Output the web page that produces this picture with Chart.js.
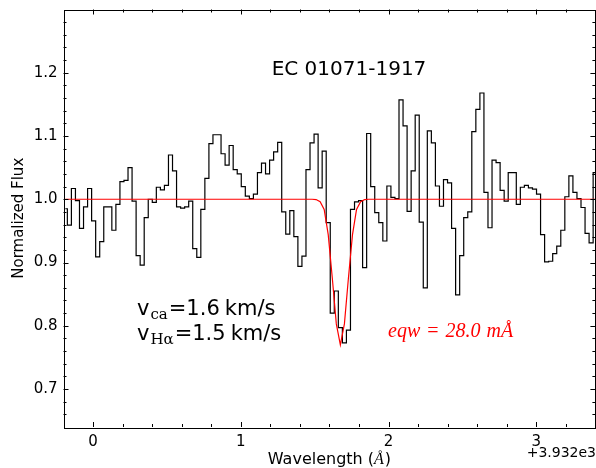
<!DOCTYPE html>
<html lang="en">
<head>
  <meta charset="UTF-8">
  <title>EC 01071-1917</title>
  <script src="https://cdn.jsdelivr.net/npm/chart.js"></script>
  <style>
    html, body { margin: 0; padding: 0; background: #fff; }
    .wrap { position: relative; width: 596px; height: 468px; }
  </style>
</head>
<body>
  <div class="wrap"><canvas id="spec"></canvas></div>

  <script>
    // wavelength grid (offset from 3932 A), one entry per pixel bin of the spectrum
    const waveStart = -0.1876;
    const waveStep = 0.027374;

    // normalized flux
    const flux = [
      0.985, 0.959, 1.017, 0.998, 0.954, 0.988, 1.017, 0.966, 0.909, 0.933,
      0.988, 0.988, 0.951, 0.992, 1.028, 1.030, 1.050, 0.997, 0.911, 0.896,
      0.971, 1.000, 0.995, 1.019, 1.015, 1.022, 1.070, 1.045, 0.988, 0.986,
      0.988, 0.997, 0.922, 0.908, 0.984, 1.033, 1.088, 1.102, 1.102, 1.072,
      1.054, 1.085, 1.047, 1.040, 1.020, 1.005, 1.001, 1.008, 1.042, 1.057,
      1.040, 1.062, 1.075, 1.090, 0.980, 0.945, 0.982, 0.941, 0.894, 0.910,
      1.047, 1.089, 1.103, 1.018, 1.076, 0.963, 0.820, 0.855, 0.797, 0.773,
      0.793, 0.984, 0.996, 0.998, 0.892, 1.104, 1.020, 0.979, 0.963, 0.934,
      1.021, 1.003, 1.001, 1.157, 1.116, 0.981, 1.045, 1.133, 0.964, 0.860,
      1.108, 1.089, 1.021, 0.989, 1.031, 1.026, 0.954, 0.849, 0.911, 0.971,
      0.980, 1.107, 1.142, 1.168, 1.011, 0.955, 1.062, 1.058, 1.014, 0.997,
      1.042, 1.042, 0.992, 1.019, 1.022, 1.018, 1.016, 1.008, 0.944, 0.901,
      0.902, 0.914, 0.926, 0.951, 1.004, 1.037, 1.011, 1.001, 0.987, 0.946,
      0.931, 1.042
    ];

    // fitted absorption profile, sampled on the same grid (bin index -> flux)
    const modelIdx  = [0, 61, 62, 63, 64, 65, 66, 67, 68, 69, 70, 71, 72, 73, 74, 75, 131];
    const modelFlux = [1.0, 1.0, 0.9995, 0.996, 0.984, 0.944, 0.876, 0.803, 0.770,
                       0.803, 0.876, 0.944, 0.984, 0.996, 0.9995, 1.0, 1.0];

    const xTicks = [0, 1, 2, 3];
    const yTicks = [0.7, 0.8, 0.9, 1.0, 1.1, 1.2];

    const waveAt = i => waveStart + i * waveStep;
    const fluxPoints = flux.map((f, i) => ({ x: waveAt(i), y: f }));
    const modelPoints = modelIdx.map((i, j) => ({ x: waveAt(i), y: modelFlux[j] }));

    const SANS = '"DejaVu Sans", sans-serif';
    const SERIF = '"DejaVu Serif", serif';
    const ITAL = '"Liberation Serif", "DejaVu Serif", serif';

    function runs(ctx, x, y, parts) {
      let cx = x;
      parts.forEach(p => {
        ctx.font = p.font;
        ctx.fillText(p.t, cx, y + (p.dy || 0));
        cx += ctx.measureText(p.t).width + (p.gap || 0);
      });
      return cx - x;
    }
    function runsWidth(ctx, parts) {
      let w = 0;
      parts.forEach(p => { ctx.font = p.font; w += ctx.measureText(p.t).width + (p.gap || 0); });
      return w;
    }

    const frame = {
      id: 'frame',
      afterDraw(chart) {
        const { ctx, chartArea: a, scales: { x, y } } = chart;
        ctx.save();
        ctx.strokeStyle = '#000';
        ctx.lineWidth = 1;
        ctx.strokeRect(Math.round(a.left) + 0.5, Math.round(a.top) + 0.5,
                       Math.round(a.right - a.left) - 1, Math.round(a.bottom - a.top));

        // inward ticks on all four sides
        const tick = (px, len, vertical) => {
          ctx.beginPath();
          const p = Math.round(px) + 0.5;
          if (vertical) {
            ctx.moveTo(p, a.bottom); ctx.lineTo(p, a.bottom - len);
            ctx.moveTo(p, a.top); ctx.lineTo(p, a.top + len);
          } else {
            ctx.moveTo(a.left, p); ctx.lineTo(a.left + len, p);
            ctx.moveTo(a.right, p); ctx.lineTo(a.right - len, p);
          }
          ctx.stroke();
        };
        for (let v = -0.2; v < 3.41; v += 0.2) {
          const r = Math.round(v * 10) / 10;
          if (r <= -0.2 || r >= 3.4) continue;
          tick(x.getPixelForValue(r), Number.isInteger(r) ? 5 : 3, true);
        }
        for (let v = 0.66; v < 1.3; v += 0.02) {
          const r = Math.round(v * 100) / 100;
          const major = Math.abs(r * 10 - Math.round(r * 10)) < 1e-6;
          tick(y.getPixelForValue(r), major ? 5 : 3, false);
        }

        ctx.fillStyle = '#000';
        ctx.textBaseline = 'alphabetic';

        // object name
        ctx.font = '20px ' + SANS;
        ctx.textAlign = 'center';
        ctx.fillText('EC 01071-1917', 349, 75);

        // velocities
        ctx.textAlign = 'left';
        runs(ctx, 137, 315, [
          { t: 'v', font: '21px ' + SANS, gap: 1 },
          { t: 'ca', font: '15px ' + SERIF, dy: 4, gap: 1 },
          { t: '=1.6', font: '21px ' + SANS, gap: 5 },
          { t: 'km/s', font: '21px ' + SANS }
        ]);
        runs(ctx, 137, 340, [
          { t: 'v', font: '21px ' + SANS, gap: 1 },
          { t: 'H\u03b1', font: '15px ' + SERIF, dy: 4, gap: 1 },
          { t: '=1.5', font: '21px ' + SANS, gap: 5 },
          { t: 'km/s', font: '21px ' + SANS }
        ]);

        // equivalent width
        ctx.fillStyle = '#ff0000';
        runs(ctx, 388, 337, [
          { t: 'eqw', font: 'italic 20px ' + ITAL, gap: 7 },
          { t: '=', font: '20px ' + ITAL, gap: 7 },
          { t: '28.0', font: 'italic 20px ' + ITAL, gap: 6 },
          { t: 'm\u00c5', font: 'italic 20px ' + ITAL }
        ]);

        // axis titles
        ctx.fillStyle = '#000';
        const xl = [
          { t: 'Wavelength (', font: '16px ' + SANS },
          { t: '\u00c5', font: 'italic 16px ' + ITAL, gap: 1 },
          { t: ')', font: '16px ' + SANS }
        ];
        const cx = (a.left + a.right) / 2;
        runs(ctx, cx - runsWidth(ctx, xl) / 2, 464, xl);

        ctx.font = '14px ' + SANS;
        ctx.textAlign = 'right';
        ctx.fillText('+3.932e3', 596, 457);

        ctx.translate(23, (a.top + a.bottom) / 2);
        ctx.rotate(-Math.PI / 2);
        ctx.textAlign = 'center';
        ctx.font = '15px ' + SANS;
        ctx.fillText('Normalized Flux', 0, 0);
        ctx.restore();
      }
    };

    const config = {
      type: 'line',
      data: {
        datasets: [
          {
            label: 'model',
            data: modelPoints,
            borderColor: '#ff0000',
            borderWidth: 1.2,
            pointRadius: 0,
            tension: 0,
            order: 0
          },
          {
            label: 'flux',
            data: fluxPoints,
            borderColor: '#000000',
            borderWidth: 1.2,
            pointRadius: 0,
            stepped: 'middle',
            order: 1
          }
        ]
      },
      options: {
        responsive: false,
        animation: false,
        events: [],
        layout: { padding: { top: 9.5, right: 0.6, left: 0, bottom: 0 } },
        plugins: { legend: { display: false }, tooltip: { enabled: false } },
        scales: {
          x: {
            type: 'linear',
            min: -0.2,
            max: 3.4,
            grid: { display: false, drawTicks: false },
            border: { display: false },
            afterBuildTicks: s => { s.ticks = xTicks.map(v => ({ value: v })); },
            afterFit: s => { s.height = 41; s.paddingLeft = 0; s.paddingRight = 0; },
            ticks: {
              color: '#000',
              padding: 6,
              maxRotation: 0,
              autoSkip: false,
              font: { family: 'DejaVu Sans', size: 15 },
              callback: v => String(v)
            }
          },
          y: {
            min: 0.64,
            max: 1.3,
            grid: { display: false, drawTicks: false },
            border: { display: false },
            afterBuildTicks: s => { s.ticks = yTicks.map(v => ({ value: v })); },
            afterFit: s => { s.width = 63.5; s.paddingTop = 0; s.paddingBottom = 0; },
            ticks: {
              color: '#000',
              padding: 6,
              autoSkip: false,
              font: { family: 'DejaVu Sans', size: 15 },
              callback: v => v.toFixed(1)
            }
          }
        }
      },
      plugins: [frame]
    };

    const canvas = document.getElementById('spec');
    canvas.width = 596;
    canvas.height = 468;
    new Chart(canvas.getContext('2d'), config);
  </script>
</body>
</html>
